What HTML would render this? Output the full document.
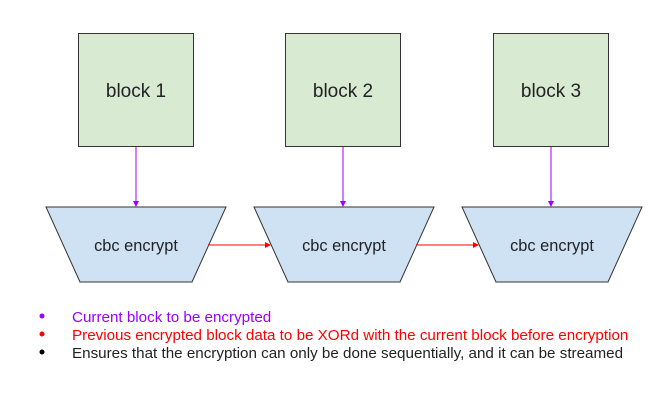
<!DOCTYPE html>
<html><head><style>body{margin:0;background:#fff}</style></head><body>
<svg width="664" height="404" xmlns="http://www.w3.org/2000/svg" font-family="Liberation Sans, Arial, sans-serif">
<defs>
<marker id="p" markerWidth="6" markerHeight="6" refX="5" refY="3" orient="auto" markerUnits="userSpaceOnUse"><path d="M0,0L6,3L0,6z" fill="#9900ff"/></marker>
<marker id="r" markerWidth="6" markerHeight="6" refX="5" refY="3" orient="auto" markerUnits="userSpaceOnUse"><path d="M0,0L6,3L0,6z" fill="#ff0000"/></marker>
</defs>
<g stroke="#333" stroke-width="1">
<rect x="78.5" y="33.5" width="115" height="113" fill="#d9ead3"/>
<rect x="285.5" y="33.5" width="115" height="113" fill="#d9ead3"/>
<rect x="493.5" y="33.5" width="115" height="113" fill="#d9ead3"/>
<polygon points="46,207 226,207 192,282 80,282" fill="#cfe2f3"/>
<polygon points="254,207 434,207 400,282 288,282" fill="#cfe2f3"/>
<polygon points="462,207 642,207 608,282 496,282" fill="#cfe2f3"/>
</g>
<g stroke="#9900ff" stroke-width="1"><line x1="136" y1="147" x2="136" y2="206" marker-end="url(#p)"/><line x1="343" y1="147" x2="343" y2="206" marker-end="url(#p)"/><line x1="551" y1="147" x2="551" y2="206" marker-end="url(#p)"/></g>
<g stroke="#ff0000" stroke-width="1"><line x1="208" y1="245" x2="270" y2="245" marker-end="url(#r)"/><line x1="416" y1="245" x2="478" y2="245" marker-end="url(#r)"/></g>
<g font-size="19" fill="#222" text-anchor="middle"><text x="136" y="97">block 1</text><text x="343" y="97">block 2</text><text x="551" y="97">block 3</text></g>
<g font-size="16.4" fill="#222" text-anchor="middle"><text x="136" y="251">cbc encrypt</text><text x="344" y="251">cbc encrypt</text><text x="552" y="251">cbc encrypt</text></g>
<circle cx="42" cy="316" r="2.5" fill="#9900ff"/><circle cx="42" cy="334" r="2.5" fill="#ff0000"/><circle cx="42" cy="352" r="2.5" fill="#000"/>
<g font-size="15.2"><text x="72" y="322" fill="#9900ff">Current block to be encrypted</text><text x="72" y="340" fill="#ff0000">Previous encrypted block data to be XORd with the current block before encryption</text><text x="72" y="358" fill="#222">Ensures that the encryption can only be done sequentially, and it can be streamed</text></g>
</svg>
</body></html>
